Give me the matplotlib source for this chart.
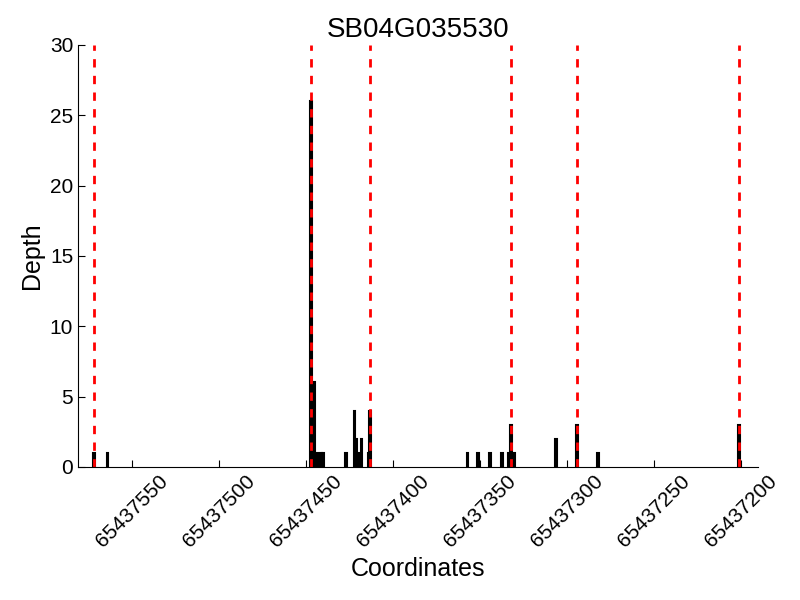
import matplotlib
matplotlib.use("Agg")
import matplotlib.pyplot as plt

plt.rcParams['font.family'] = ['Liberation Sans', 'DejaVu Sans']

# Read depth per coordinate
coords = [65437572, 65437564, 65437447, 65437445, 65437443, 65437441, 65437440,
          65437427, 65437422, 65437421, 65437420, 65437418, 65437414, 65437413,
          65437357, 65437351, 65437344, 65437337, 65437333, 65437332, 65437330,
          65437306, 65437294, 65437282, 65437201]
depths = [1, 1, 26, 6, 1, 1, 1,
          1, 4, 2, 1, 2, 1, 4,
          1, 1, 1, 1, 1, 3, 1,
          2, 3, 1, 3]

# exon boundaries (red dashed lines)
boundaries = [65437572, 65437447, 65437413, 65437332, 65437294, 65437201]

xticks = [65437550, 65437500, 65437450, 65437400, 65437350, 65437300, 65437250, 65437200]
yticks = [0, 5, 10, 15, 20, 25, 30]

fig = plt.figure(figsize=(8, 6), dpi=100)
ax = fig.add_axes([0.0975, 0.222, 0.85, 0.703])

ax.bar(coords, depths, width=1, color='black', edgecolor='black', linewidth=1.5)
for b in boundaries:
    ax.axvline(b, color='red', linestyle=(0, (3, 3)), linewidth=2)

ax.set_xlim(65437581, 65437190)
ax.set_ylim(0, 30)
ax.set_xticks(xticks)
ax.set_xticklabels([str(t) for t in xticks], rotation=45)
ax.set_yticks(yticks)

ax.spines['top'].set_visible(False)
ax.spines['right'].set_visible(False)
ax.tick_params(direction='in', length=5, labelsize=15, top=False, right=False)

ax.set_title("SB04G035530", fontsize=20)
ax.set_xlabel("Coordinates", fontsize=18)
ax.set_ylabel("Depth", fontsize=18)

fig.savefig("out.png", dpi=100)
